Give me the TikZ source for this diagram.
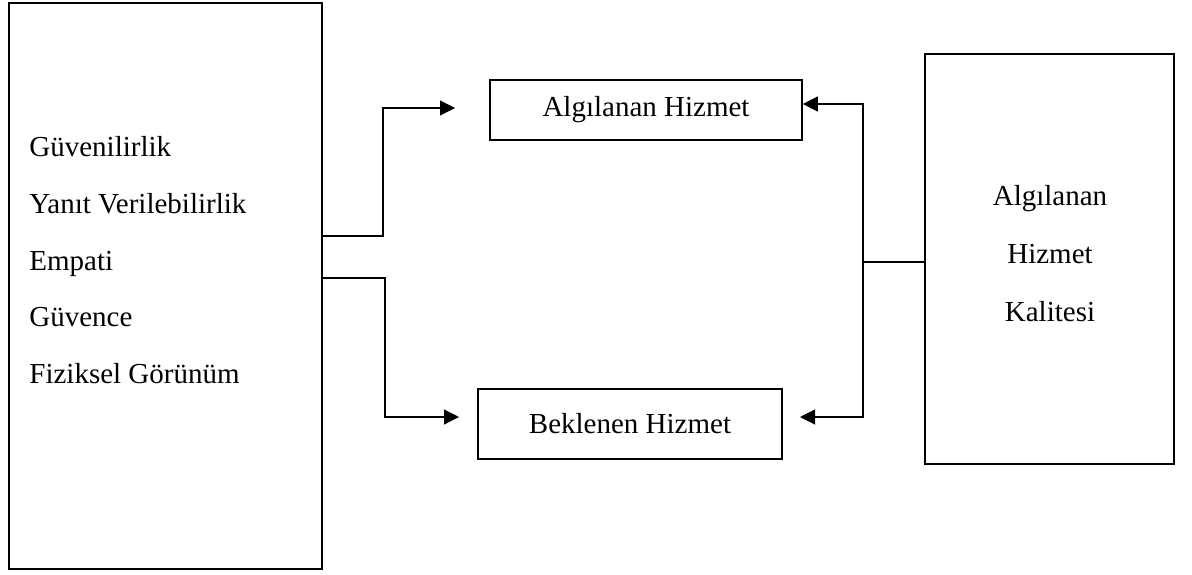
\documentclass[tikz,border=0pt]{standalone}
\usepackage{fontspec}
\setmainfont{Liberation Serif}
\usetikzlibrary{arrows.meta, positioning}

\tikzset{
  box/.style={draw=black, line width=0.8pt, inner sep=0pt},
  link/.style={line width=0.55pt},
  txt/.style={font=\fontsize{14.5}{17}\selectfont, inner sep=0pt},
}

\begin{document}
\begin{tikzpicture}[x=0.5pt, y=0.5pt, >={Triangle[length=7.5pt, width=7.5pt]}]
  \useasboundingbox (0,0) rectangle (1192,574);

  % left box: the five dimensions
  \node[box, minimum width=156.5pt, minimum height=283pt] (dims) at (165.5,288) {};
  \foreach \d [count=\i] in {Güvenilirlik, Yanıt Verilebilirlik, Empati, Güvence, Fiziksel Görünüm}
    \node[txt, anchor=base west] (dim\i) at (29, 473.5-56.5*\i) {\d};

  % middle boxes
  \node[box, txt, minimum width=156pt, minimum height=30pt] (perc) at (646,464) {Algılanan Hizmet};
  \node[box, txt, minimum width=152pt, minimum height=35pt] (expc) at (630,150) {Beklenen Hizmet};

  % right box
  \node[box, minimum width=124.5pt, minimum height=205pt] (qual) at (1049.5,315) {};
  \foreach \q [count=\i] in {Algılanan, Hizmet, Kalitesi}
    \node[txt, anchor=base] (qual\i) at (1050, 427-58*\i) {\q};

  % connectors
  \coordinate (pin) at (455,466);
  \coordinate (ein) at (459,157);
  \coordinate (rj) at (863,312);
  \coordinate (eout) at (800,157);
  \draw[link, ->] ([yshift=25pt]dims.east) -| ([xshift=-36pt]pin) -- (pin);
  \draw[link, ->] ([yshift=4pt]dims.east) -| ([xshift=-37pt]ein) -- (ein);
  \draw[link] ([yshift=-1.5pt]qual.west) -- (rj);
  \draw[link, ->] (rj) |- ([yshift=3pt]perc.east);
  \draw[link, ->] (rj) |- (eout);
\end{tikzpicture}
\end{document}
